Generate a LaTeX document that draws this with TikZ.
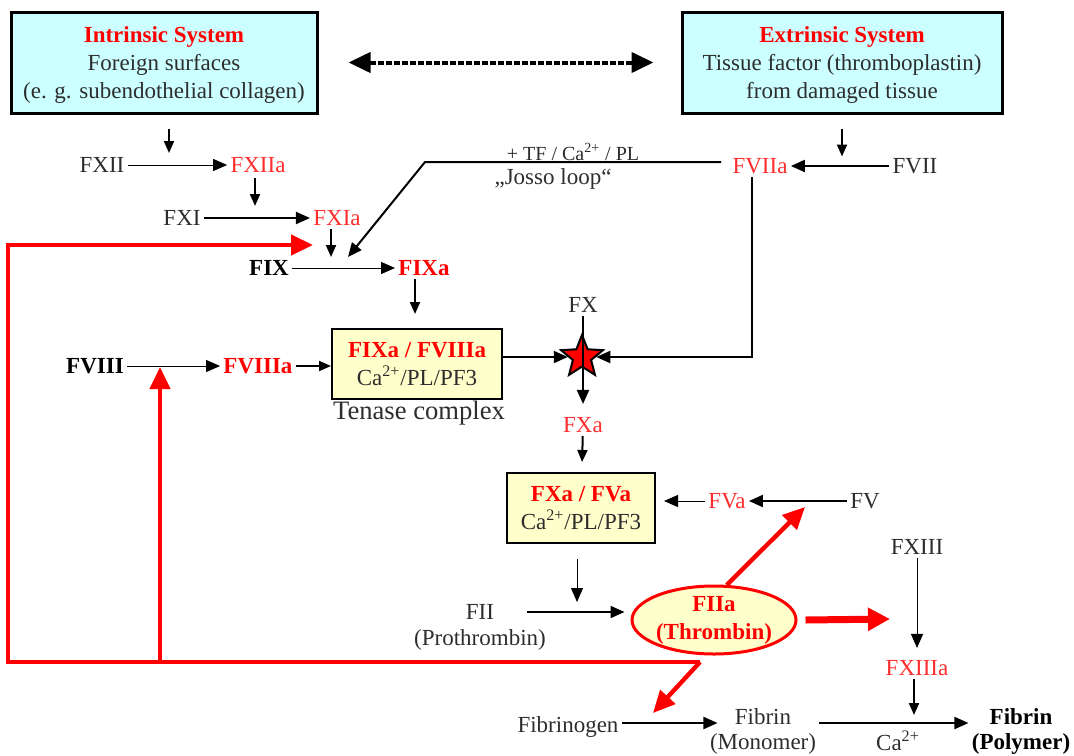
\documentclass[tikz,border=0pt]{standalone}
\usepackage{fontspec}
\setmainfont{Liberation Serif}
\usetikzlibrary{arrows.meta, shapes.geometric}
\definecolor{sysblue}{RGB}{204,255,255}
\definecolor{cplxyellow}{RGB}{255,255,204}
\definecolor{actred}{RGB}{255,45,45}
\definecolor{factgray}{RGB}{45,45,45}

\begin{document}
\begin{tikzpicture}[x=0.5pt, y=-0.5pt, font=\fontsize{11.5}{14}\selectfont,
  fac/.style={inner sep=1.5pt, text=factgray}, act/.style={inner sep=1.5pt, text=actred}, key/.style={inner sep=1.5pt, font=\fontsize{11.5}{14}\selectfont\bfseries},
  sys/.style={draw, line width=1.5pt, fill=sysblue, align=center, inner sep=0pt, minimum height=50.5pt, text=factgray},
  cplx/.style={draw, line width=1pt, fill=cplxyellow, align=center, inner sep=0pt, minimum height=35pt, text=factgray},
  conv/.style={-{Triangle[length=7pt,width=6pt]}, line width=0.5pt}, conv2/.style={-{Triangle[length=7pt,width=6pt]}, line width=1pt},
  cat/.style={-{Triangle[length=6pt,width=5pt]}, line width=1pt},
  feed/.style={-{Triangle[length=11pt,width=10pt]}, line width=2.2pt, draw=red},
  link/.style={{Triangle[length=11pt,width=10pt]}-{Triangle[length=11pt,width=10pt]}, line width=2pt, dash pattern=on 3pt off 1pt}]

\useasboundingbox (0,0) rectangle (1074,755);
\node[sys, minimum width=153pt] (intr) at (164,62.5) {\rule{0pt}{10pt}\textcolor{red}{\bfseries Intrinsic System}\\Foreign surfaces\\(e. g. subendothelial collagen)};
\node[sys, minimum width=160pt] (extr) at (842,62.5) {\rule{0pt}{10pt}\textcolor{red}{\bfseries Extrinsic System}\\Tissue factor (thromboplastin)\\from damaged tissue};
\draw[link, shorten <=15pt, shorten >=13.5pt] (intr) -- (extr);

\node[fac] (fxii) at (102,165) {FXII}; \node[act] (fxiia) at (258,165) {FXIIa};
\node[fac] (fxi) at (182,218) {FXI}; \node[act] (fxia) at (337,218) {FXIa};
\node[key] (fix) at (269,268) {FIX}; \node[key, text=red] (fixa) at (424,268) {FIXa};
\node[fac] (fvii) at (915,166) {FVII}; \node[act] (fviia) at (760,166) {FVIIa};
\node[fac, font=\fontsize{10}{12}\selectfont] (tf) at (573,152) {+ TF / Ca\textsuperscript{2+} / PL};
\node[fac] (josso) at (553,179) {„Josso loop“};
\node[key] (fviii) at (95,366) {FVIII}; \node[key, text=red] (fviiia) at (258,366) {FVIIIa};
\node[cplx, minimum width=85pt] (tenase) at (417,364) {\textcolor{red}{\bfseries FIXa / FVIIIa}\\Ca\textsuperscript{2+}/PL/PF3};
\node[fac, font=\fontsize{13.3}{15}\selectfont] (tenlab) at (419,413) {Tenase complex};
\node[fac] (fx) at (583,305) {FX}; \node[act] (fxa) at (583,425) {FXa};
\node[star, star points=5, star point ratio=2.3, minimum size=22pt, inner sep=0pt, draw=black, fill=red, line width=1pt] (star) at (582,357) {};
\node[cplx, minimum width=74pt] (prot) at (581,508) {\textcolor{red}{\bfseries FXa / FVa}\\Ca\textsuperscript{2+}/PL/PF3};
\node[fac] (fv) at (865,501) {FV}; \node[act] (fva) at (727,501) {FVa};
\node[fac] (fii) at (480,612) {FII}; \node[fac] (fiinote) at (480,640) {(Prothrombin)};
\node[ellipse, draw=red, line width=1.5pt, fill=cplxyellow, minimum width=82pt, minimum height=34pt, inner sep=0pt, align=center, text=red, font=\fontsize{11.5}{14}\selectfont\bfseries] (thr) at (714,620) {FIIa\\(Thrombin)};
\node[fac] (fxiii) at (917,547) {FXIII}; \node[act] (fxiiia) at (917,668) {FXIIIa};
\node[fac] (fgen) at (568,727) {Fibrinogen};
\node[fac] (fibm) at (763,717) {Fibrin}; \node[fac] (fibmnote) at (763,744) {(Monomer)};
\node[key] (fibp) at (1021,717) {Fibrin}; \node[key] (fibpnote) at (1021,744) {(Polymer)};
\node[fac] (ca) at (898,741) {Ca\textsuperscript{2+}};

\coordinate (r12) at (169,153); \coordinate (r11) at (255,206); \coordinate (r9) at (331,257);
\coordinate (josk) at (425,162); \coordinate (jos) at (348,257);
\coordinate (thrb) at (700,662); \coordinate (fl) at (8,662); \coordinate (fu) at (8,245); \coordinate (fb) at (313,245);
\coordinate (f8b) at (160,662); \coordinate (f8) at (160,367); \coordinate (fgtip) at (653,713); \coordinate (fvtip) at (805,507); \coordinate (xiiitip) at (890,619);
\coordinate (r2) at (577,602); \coordinate (rfb) at (914,715);

\draw[cat] (intr.south -| r12) ++(0,14) -- (r12); \draw[conv] (fxii) -- (fxiia);
\draw[cat] (fxiia.south -| r11) ++(0,2) -- (r11); \draw[conv2] (fxi) -- (fxia);
\draw[cat] (fxia.south -| r9) -- (r9); \draw[conv] (fix) -- (fixa);
\draw[cat] (extr.south) ++(0,14) -- ++(0,28); \draw[conv2] (fvii) -- (fviia);
\draw[conv2, shorten <=4pt] (fviia.west |- josk) -- (josk) -- (jos);
\draw[cat, shorten >=7pt] ([xshift=-4.5pt]fixa.south) -- ([xshift=-4.5pt]fixa.south |- tenase.north);
\draw[conv] (fviii) -- (fviiia); \draw[cat] (fviiia.east) -- (fviiia.east -| tenase.west);
\draw[conv2] (tenase.east |- star) -- (star); \draw[conv2] ([xshift=-4pt]fviia.south) |- (star);
\draw[conv2, shorten >=5pt] (fx) -- (fxa); \draw[cat, shorten >=5pt] (fxa) -- (prot);
\draw[conv2] (fv) -- (fva); \draw[conv, shorten >=4pt] (fva.west) -- (fva.west -| prot.east);
\draw[conv] (prot.south -| r2) ++(0,15) -- (r2);
\draw[conv2, shorten <=15pt, shorten >=3pt] (fii.east) -- (fii.east -| thr.west);
\draw[conv, shorten >=4.5pt] (fxiii) -- (fxiiia); \draw[cat] (fxiiia.south -| rfb) -- (rfb);
\draw[conv2, shorten >=7pt] ([yshift=2pt]fgen.east) -- ([yshift=2pt]fgen.east -| fibm.west);
\draw[conv2] ([yshift=-3pt]fibm.east -| fibmnote.east) -- ([yshift=-3pt]fibp.west -| fibpnote.west);

\draw[feed] (thrb) -- (fl) -- (fu) -- (fb); \draw[feed] (f8b) -- (f8); \draw[feed] (thrb) -- (fgtip);
\draw[feed] (thr.70) -- (fvtip); \draw[feed, line width=3.5pt, -{Triangle[length=11pt,width=11pt]}] (thr.east) ++(8,0) -- (xiiitip);
\end{tikzpicture}
\end{document}
